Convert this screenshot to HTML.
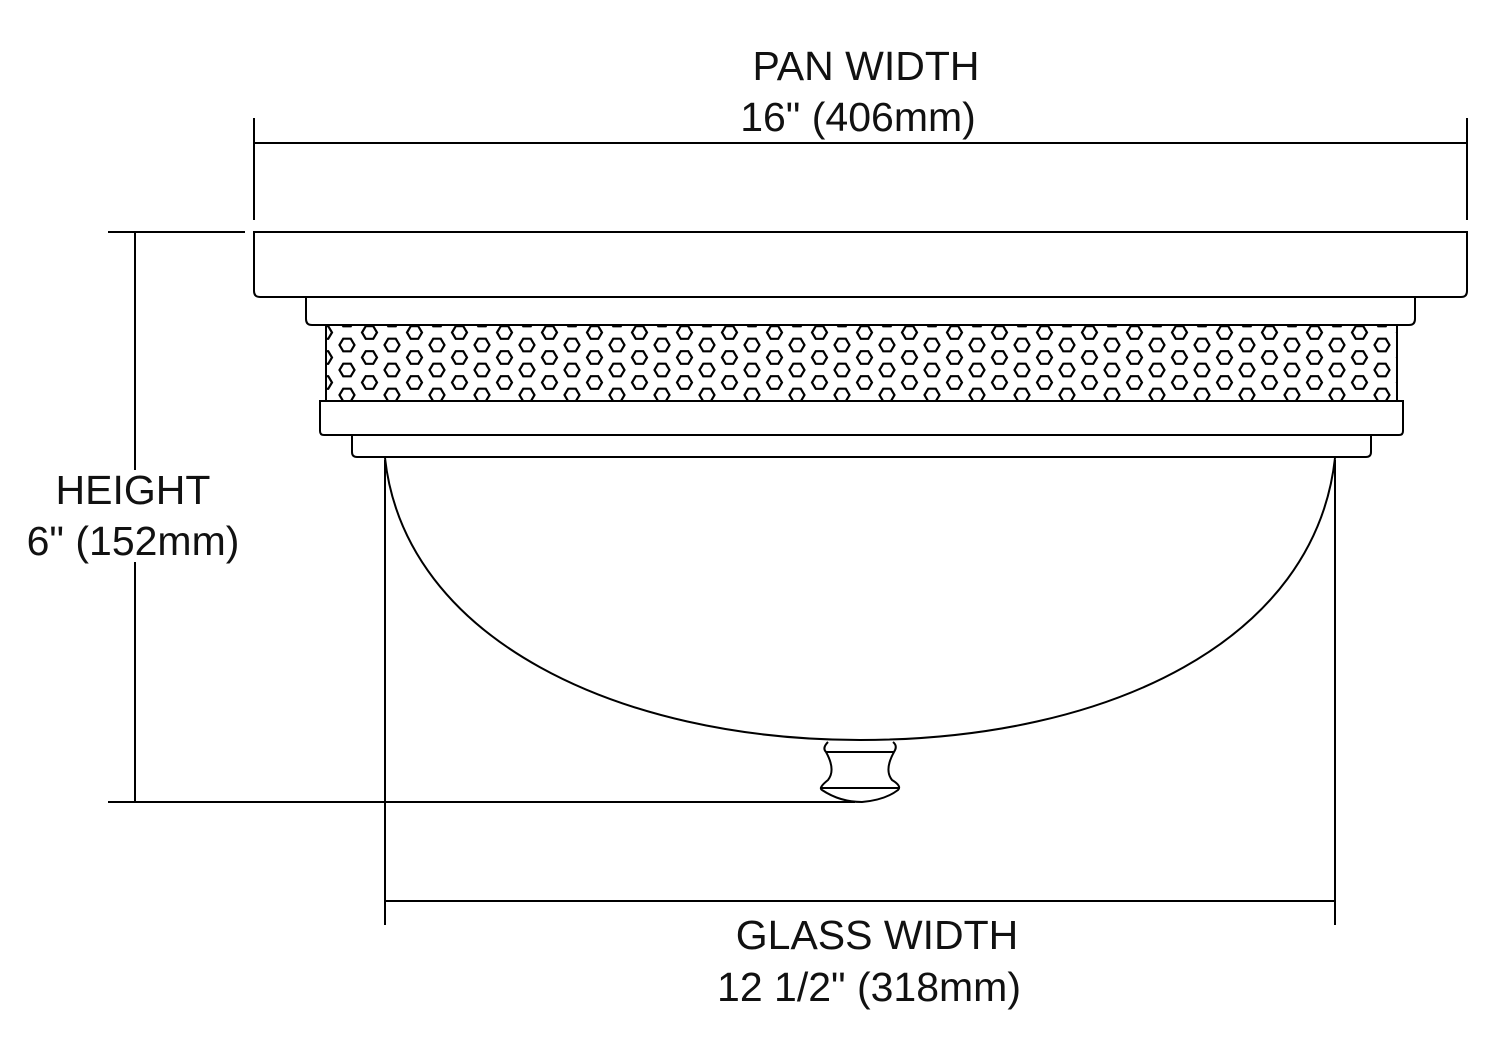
<!DOCTYPE html>
<html><head><style>
html,body{margin:0;padding:0;background:#fff;}
svg{display:block;}
text{font-family:"Liberation Sans",sans-serif;font-size:41px;fill:#111;}
</style></head><body>
<svg width="1500" height="1058" viewBox="0 0 1500 1058">
<defs>
<pattern id="hx" x="347" y="345" width="45" height="25" patternUnits="userSpaceOnUse">
<g fill="none" stroke="#000" stroke-width="2.2">
<polygon points="-7.5,0 -3.75,-6.3 3.75,-6.3 7.5,0 3.75,6.3 -3.75,6.3"/>
<polygon points="37.5,0 41.25,-6.3 48.75,-6.3 52.5,0 48.75,6.3 41.25,6.3"/>
<polygon points="-7.5,25 -3.75,18.7 3.75,18.7 7.5,25 3.75,31.3 -3.75,31.3"/>
<polygon points="37.5,25 41.25,18.7 48.75,18.7 52.5,25 48.75,31.3 41.25,31.3"/>
<polygon points="15,12.5 18.75,6.2 26.25,6.2 30,12.5 26.25,18.8 18.75,18.8"/>
</g>
</pattern>
</defs>
<g fill="none" stroke="#000" stroke-width="2">
<line x1="254" y1="118" x2="254" y2="220"/>
<line x1="1467" y1="118" x2="1467" y2="220"/>
<line x1="254" y1="143" x2="1467" y2="143"/>
<line x1="108" y1="232" x2="245" y2="232"/>
<line x1="135" y1="232" x2="135" y2="802"/>
<line x1="108" y1="802" x2="855" y2="802"/>
<line x1="385" y1="460" x2="385" y2="925"/>
<line x1="1335" y1="460" x2="1335" y2="925"/>
<line x1="385" y1="901" x2="1335" y2="901"/>
<path d="M254,232 H1467 V291 Q1467,297 1461,297 H260 Q254,297 254,291 Z" fill="#fff"/>
<path d="M306,297 V319 Q306,325 312,325 H1409 Q1415,325 1415,319 V297"/>
<rect x="326" y="325" width="1071" height="76" fill="url(#hx)"/>
<line x1="326" y1="325" x2="326" y2="401"/>
<line x1="1397" y1="325" x2="1397" y2="401"/>
<path d="M320,401 H1403 V431 Q1403,435 1399,435 H324 Q320,435 320,431 Z" fill="#fff"/>
<path d="M352,435 V452 Q352,457 357,457 H1366 Q1371,457 1371,452 V435"/>
<path d="M385,458 C405,640 620,740 860,740 C1110,740 1315,640 1335,458"/>
<path d="M828,742 Q822,748 826,752 Q836,770 828,780 Q818,788 822,790 Q840,802 862,802 Q885,800 898,790 Q902,786 892,780 Q884,770 894,752 Q898,746 893,742"/>
<line x1="826" y1="752" x2="894" y2="752"/>
<line x1="820" y1="788" x2="900" y2="788"/>
</g>
<rect x="25" y="470" width="220" height="92" fill="#fff"/>
<text x="866" y="80" text-anchor="middle">PAN WIDTH</text>
<text x="858" y="131" text-anchor="middle">16" (406mm)</text>
<text x="133" y="504" text-anchor="middle">HEIGHT</text>
<text x="133" y="555" text-anchor="middle">6" (152mm)</text>
<text x="877" y="949" text-anchor="middle">GLASS WIDTH</text>
<text x="869" y="1001" text-anchor="middle">12 1/2" (318mm)</text>
</svg>
</body></html>
